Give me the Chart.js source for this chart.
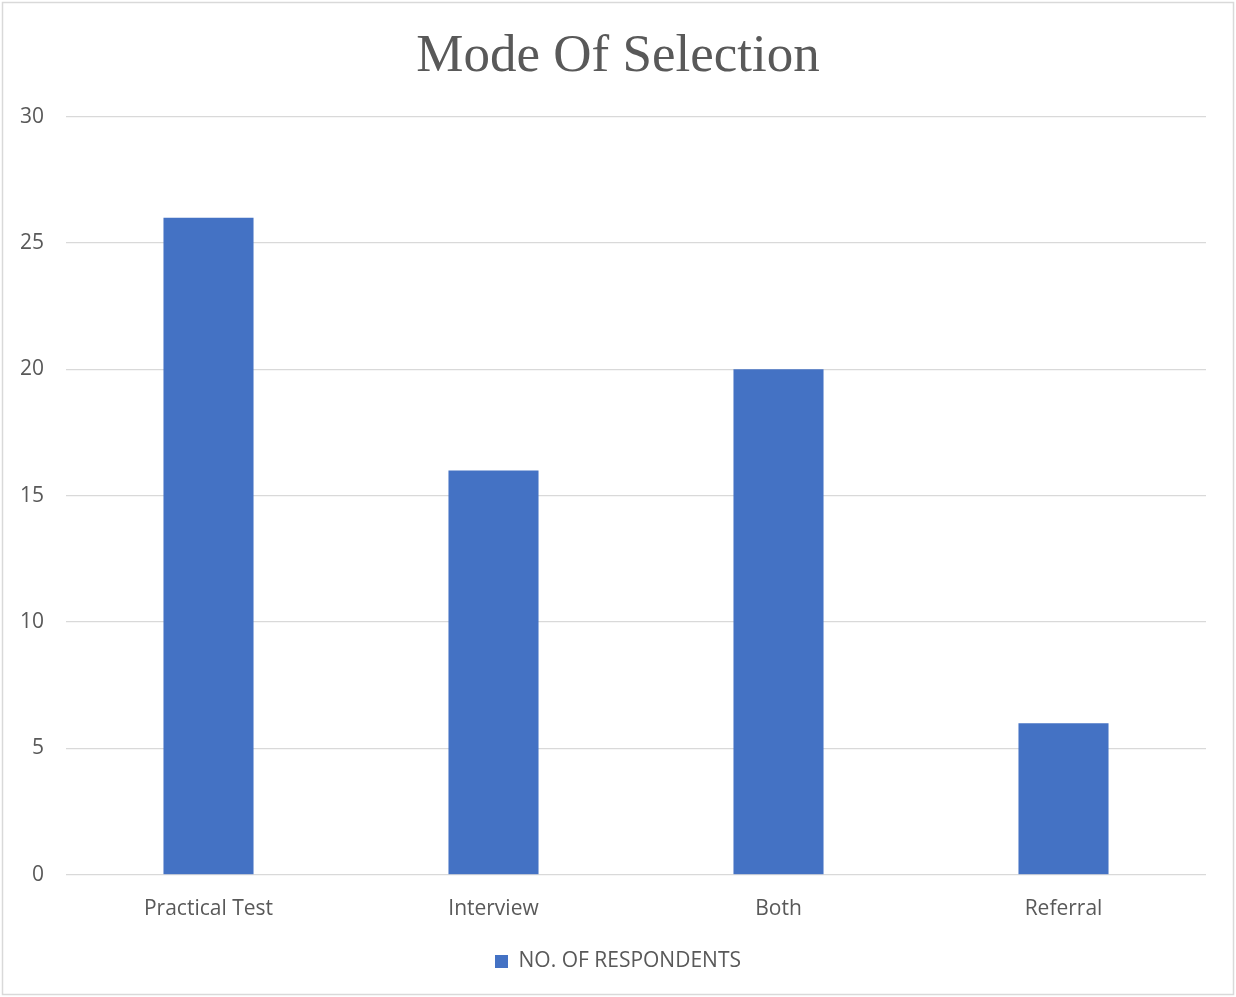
<!DOCTYPE html>
<html>
<head>
<meta charset="utf-8">
<script src="https://cdn.jsdelivr.net/npm/chart.js@4/dist/chart.umd.min.js"></script>
<style>
  html, body { margin: 0; padding: 0; background: #ffffff; }
  #wrap { position: relative; width: 1236px; height: 997px; }
</style>
</head>
<body>
<div id="wrap"><canvas id="chart" width="1236" height="997"></canvas></div>
<script>
// Selection modes and respondent counts
const categories = ['Practical Test', 'Interview', 'Both', 'Referral'];
const respondents = [26, 16, 20, 6];
const seriesName = 'NO. OF RESPONDENTS';
const yTicks = [0, 5, 10, 15, 20, 25, 30];

const textColor = '#595959';
const gridColor = '#d9d9d9';
const barColor = '#4472c4';
const labelFont = { family: '"Open Sans", "Noto Sans", sans-serif', size: 21 };

// Thin grey frame around the whole chart
const frame = {
  id: 'frame',
  afterDraw(chart) {
    const ctx = chart.ctx;
    ctx.save();
    ctx.strokeStyle = gridColor;
    ctx.lineWidth = 1.5;
    ctx.strokeRect(2.5, 2.5, chart.width - 5, chart.height - 5);
    ctx.restore();
  }
};

new Chart(document.getElementById('chart'), {
  type: 'bar',
  data: {
    labels: categories,
    datasets: [{
      label: seriesName,
      data: respondents,
      backgroundColor: barColor,
      borderWidth: 0,
      barPercentage: 1,
      categoryPercentage: 0.316
    }]
  },
  options: {
    responsive: false,
    animation: false,
    devicePixelRatio: 1,
    layout: { padding: { left: 0, right: 0, top: 0, bottom: 15 } },
    plugins: {
      title: {
        display: true,
        text: 'Mode Of Selection',
        color: textColor,
        font: { family: '"Liberation Serif", "Times New Roman", serif', size: 53, weight: 'normal' },
        padding: { top: 25, bottom: 28 }
      },
      legend: {
        position: 'bottom',
        labels: {
          color: textColor,
          font: labelFont,
          boxWidth: 13,
          boxHeight: 13,
          padding: 13
        }
      },
      tooltip: { enabled: false }
    },
    scales: {
      x: {
        afterFit(scale) { scale.height += 2; },
        grid: { display: false },
        border: { display: false },
        ticks: { color: textColor, font: labelFont, padding: 14, maxRotation: 0 }
      },
      y: {
        min: 0,
        max: 30,
        afterFit(scale) { scale.width = 66; },
        afterBuildTicks(scale) { scale.ticks = yTicks.map(v => ({ value: v })); },
        grid: { color: gridColor, lineWidth: 1.3, drawTicks: false },
        border: { display: false },
        ticks: { color: textColor, font: labelFont, padding: 22 }
      },
      // empty right-hand gutter so the plot ends short of the frame
      gutter: {
        position: 'right',
        afterFit(scale) { scale.width = 30; },
        grid: { display: false },
        border: { display: false },
        ticks: { display: false }
      }
    }
  },
  plugins: [frame]
});
</script>
</body>
</html>
